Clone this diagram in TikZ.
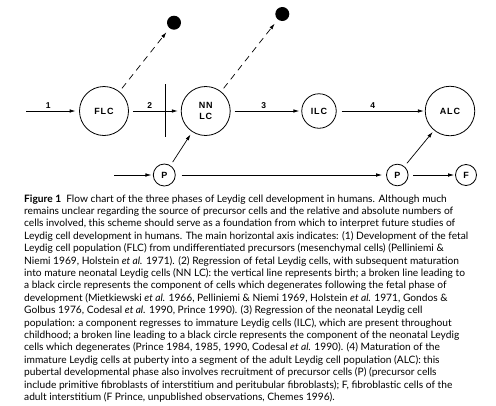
\documentclass[tikz,border=0pt]{standalone}
\usepackage{fontspec}
\setmainfont{Lato}
\newfontfamily\cellfont[LetterSpace=10]{Liberation Sans}
\usetikzlibrary{arrows.meta,calc}

\begin{document}
\begin{tikzpicture}[>={Latex[length=6pt,width=3.6pt]}, x=1pt, y=-1pt]
	\tikzstyle{cell}=[draw, circle, line width=0.8pt, inner sep=0pt, align=center, font=\cellfont\bfseries\fontsize{9}{10.5}\selectfont]
	\tikzstyle{dot}=[fill, circle, inner sep=0pt, minimum size=14pt]
	\tikzstyle{flow}=[->, line width=0.8pt, shorten <=4pt, shorten >=2pt]
	\tikzstyle{loss}=[->, line width=0.7pt, dash pattern=on 6.5pt off 5pt, shorten <=4pt, shorten >=5pt]
	\tikzstyle{num}=[above=1pt, inner sep=1pt, font=\cellfont\bfseries\fontsize{8.5}{10}\selectfont]
	\tikzstyle{capline}=[anchor=base west, inner sep=0pt, font=\fontsize{10.2}{12}\selectfont]

	\useasboundingbox (0,0) rectangle (496,405);

	% main axis
	\node (FLC) [cell, minimum size=49pt] at (104,111) {FLC};
	\node (NNLC) [cell, minimum size=49pt] at (205.7,111) {NN\\LC};
	\node (ILC) [cell, minimum size=34.5pt] at (319,111) {ILC};
	\node (ALC) [cell, minimum size=49.5pt] at (450,111) {ALC};

	% degenerating cells
	\node (D1) [dot] at (174,22.7) {};
	\node (D2) [dot] at (282.3,14) {};

	% precursor and fibroblastic cells
	\node (P1) [cell, minimum size=22pt] at (164.3,175) {P};
	\node (P2) [cell, minimum size=21.6pt] at (397.3,175) {P};
	\node (F) [cell, minimum size=21pt] at (466,175) {F};

	\coordinate (in1) at (26,111);
	\coordinate (inP) at (114,175);

	% birth
	\draw [line width=0.8pt] (165.7,84) -- (165.7,137);

	\draw [flow, shorten <=0pt, shorten >=3.5pt] (in1) -- (FLC) node[num, pos=0.42] {1};
	\draw [flow, shorten >=3pt] (FLC) -- (NNLC) node[num, pos=0.4] {2};
	\draw [flow] (NNLC) -- (ILC) node[num, pos=0.47] {3};
	\draw [flow, shorten <=5pt, shorten >=1pt] (ILC) -- (ALC) node[num, pos=0.41] {4};

	\draw [loss] (FLC) -- (D1);
	\draw [loss] (NNLC) -- (D2);

	\draw [flow, line width=0.7pt, shorten <=0pt, shorten >=1.5pt] (inP) -- (P1);
	\draw [flow, line width=0.7pt, shorten <=4pt, shorten >=3pt] (P1) -- (NNLC);
	\draw [flow, line width=0.7pt, shorten <=6pt, shorten >=4pt] (P1) -- (P2);
	\draw [flow, line width=0.7pt, shorten <=4pt, shorten >=2pt] (P2) -- (ALC);
	\draw [flow, line width=0.7pt, shorten <=4.5pt, shorten >=1pt] (P2) -- (F);

	% caption
	\foreach \txt [count=\i from 0] in {
		{\textbf{Figure 1}\enspace Flow chart of the three phases of Leydig cell development in humans. Although much},
		{remains unclear regarding the source of precursor cells and the relative and absolute numbers of},
		{cells involved, this scheme should serve as a foundation from which to interpret future studies of},
		{Leydig cell development in humans. The main horizontal axis indicates: (1) Development of the fetal},
		{Leydig cell population (FLC) from undifferentiated precursors (mesenchymal cells) (Pelliniemi \&},
		{Niemi 1969, Holstein \textit{et al.} 1971). (2) Regression of fetal Leydig cells, with subsequent maturation},
		{into mature neonatal Leydig cells (NN LC): the vertical line represents birth; a broken line leading to},
		{a black circle represents the component of cells which degenerates following the fetal phase of},
		{development (Mietkiewski \textit{et al.} 1966, Pelliniemi \& Niemi 1969, Holstein \textit{et al.} 1971, Gondos \&},
		{Golbus 1976, Codesal \textit{et al.} 1990, Prince 1990). (3) Regression of the neonatal Leydig cell},
		{population: a component regresses to immature Leydig cells (ILC), which are present throughout},
		{childhood; a broken line leading to a black circle represents the component of the neonatal Leydig},
		{cells which degenerates (Prince 1984, 1985, 1990, Codesal \textit{et al.} 1990). (4) Maturation of the},
		{immature Leydig cells at puberty into a segment of the adult Leydig cell population (ALC): this},
		{pubertal developmental phase also involves recruitment of precursor cells (P) (precursor cells},
		{include primitive fibroblasts of interstitium and peritubular fibroblasts); F, fibroblastic cells of the},
		{adult interstitium (F Prince, unpublished observations, Chemes 1996).}}
		\node (cap\i) [capline] at (24,{202+12.4*\i}) {\txt};
\end{tikzpicture}
\end{document}
